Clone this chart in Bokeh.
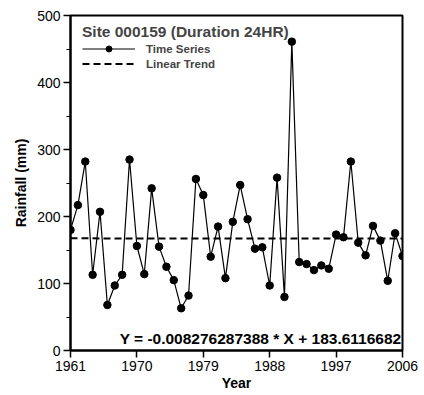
from bokeh.plotting import figure
from bokeh.models import ColumnDataSource, Legend, LegendItem, Label, FixedTicker, Range1d
from bokeh.embed import file_html
from bokeh.resources import INLINE

years = list(range(1961, 2007))
rainfall = [180, 217, 282, 113, 207, 68, 97, 113, 285, 156,
            114, 242, 155, 125, 105, 63, 82, 256, 232, 140,
            185, 108, 192, 247, 196, 152, 154, 97, 258, 80,
            461, 132, 129, 120, 127, 122, 173, 169, 282, 161,
            142, 186, 164, 104, 175, 141]
slope = -0.008276287388
intercept = 183.6116682
x_ticks = [1961, 1970, 1979, 1988, 1997, 2006]
y_ticks = [0, 100, 200, 300, 400, 500]
y_minor = [50, 150, 250, 350, 450]
title_text = "Site 000159 (Duration 24HR)"
equation_text = "Y = -0.008276287388 * X + 183.6116682"

FONT = "Liberation Sans"
W, H = 424, 395
BL, BR, BT, BB = 70, 22, 15, 45

p = figure(width=W, height=H, output_backend="svg", toolbar_location=None,
           x_range=Range1d(1961, 2006), y_range=Range1d(0, 500),
           min_border_left=BL, min_border_right=BR, min_border_top=BT, min_border_bottom=BB)
p.background_fill_color = "white"
p.border_fill_color = "white"
p.outline_line_color = "black"
p.outline_line_width = 2
p.xgrid.visible = False
p.ygrid.visible = False

src = ColumnDataSource(dict(year=years, rain=rainfall))
ln = p.line("year", "rain", source=src, line_color="black", line_width=1.2)
sc = p.scatter("year", "rain", source=src, size=7.5, fill_color="black", line_color="black")

trend_x = [years[0], years[-1]]
trend_y = [slope * x + intercept for x in trend_x]
tr = p.line(trend_x, trend_y, line_color="black", line_width=2, line_dash="7 4")

frame_h = H - BT - BB
legend_h = 50
legend = Legend(items=[LegendItem(label="Time Series", renderers=[ln, sc]),
                       LegendItem(label="Linear Trend", renderers=[tr])],
                location=(12, frame_h - 6 - legend_h), title=title_text,
                title_text_font=FONT, title_text_font_style="bold", title_text_font_size="15.5px",
                title_standoff=0,
                label_text_font=FONT, label_text_font_style="bold", label_text_font_size="11.5px",
                label_standoff=11, glyph_width=53, glyph_height=15, label_height=15,
                spacing=0, margin=0, padding=0,
                border_line_color=None, background_fill_alpha=0)
p.add_layout(legend)

eq = Label(x=2006, y=0, x_offset=-1, y_offset=12, text=equation_text, text_align="right",
           text_baseline="alphabetic", text_font=FONT, text_font_style="bold",
           text_font_size="15.5px", text_color="black")
p.add_layout(eq)

for ax in (p.xaxis[0], p.yaxis[0]):
    ax.axis_line_width = 2
    ax.axis_line_color = "black"
    ax.major_tick_line_color = "black"
    ax.major_tick_line_width = 1.5
    ax.major_tick_in = 0
    ax.major_tick_out = 7
    ax.minor_tick_in = 0
    ax.minor_tick_out = 4
    ax.major_label_text_font = FONT
    ax.major_label_text_font_size = "14px"
    ax.major_label_text_color = "black"
    ax.axis_label_text_font = FONT
    ax.axis_label_text_font_style = "bold"
    ax.axis_label_text_font_size = "14px"
    ax.axis_label_text_color = "black"

p.xaxis[0].ticker = FixedTicker(ticks=x_ticks)
p.xaxis[0].minor_tick_line_color = None
p.xaxis[0].major_label_standoff = 3
p.xaxis[0].axis_label = "Year"
p.xaxis[0].axis_label_standoff = 1

p.yaxis[0].ticker = FixedTicker(ticks=y_ticks, minor_ticks=y_minor)
p.yaxis[0].minor_tick_line_color = "black"
p.yaxis[0].major_label_standoff = 3
p.yaxis[0].axis_label = "Rainfall (mm)"
p.yaxis[0].axis_label_standoff = 5

open("out.html", "w").write(file_html(p, INLINE))
